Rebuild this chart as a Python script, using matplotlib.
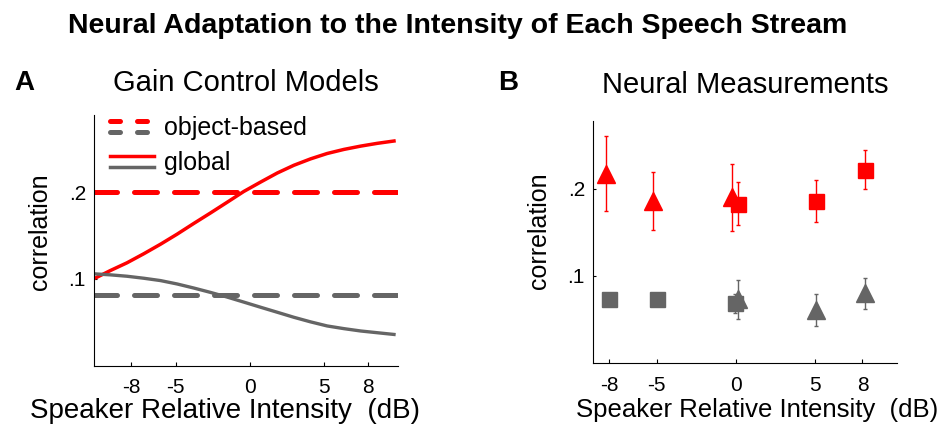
import matplotlib
matplotlib.use("Agg")
import matplotlib.pyplot as plt
from matplotlib.lines import Line2D
from matplotlib.legend_handler import HandlerBase

plt.rcParams['font.family'] = ['Liberation Sans', 'DejaVu Sans']
plt.rcParams['axes.unicode_minus'] = False

RED = '#ff0000'
GRAY = '#656565'

# Panel A: gain control models
model_x = [-10.43, -9.41, -8.29, -7.16, -6.03, -4.91, -3.78, -2.66, -1.53, -0.41,
           0.72, 1.85, 2.97, 4.10, 5.22, 6.35, 7.48, 8.60, 9.73]
global_red = [0.101, 0.1097, 0.1186, 0.129, 0.140, 0.1516, 0.164, 0.176, 0.1884, 0.2008,
              0.2116, 0.2221, 0.231, 0.2384, 0.2446, 0.2493, 0.2531, 0.2563, 0.259]
global_gray = [0.1058, 0.1047, 0.1031, 0.1008, 0.0981, 0.0942, 0.0895, 0.0845, 0.0791, 0.0733,
               0.0674, 0.0616, 0.0558, 0.0505, 0.0458, 0.0427, 0.040, 0.038, 0.036]
object_red = 0.200
object_gray = 0.081

# Panel B: neural measurements
red_tri_x = [-8.2, -5.2, -0.27]
red_tri_y = [0.217, 0.186, 0.190]
red_tri_err = [0.043, 0.033, 0.038]
red_sq_x = [0.13, 5.07, 8.15]
red_sq_y = [0.183, 0.186, 0.222]
red_sq_err = [0.025, 0.024, 0.022]
gray_sq_x = [-8.0, -5.0, -0.07]
gray_sq_y = [0.0735, 0.0735, 0.0685]
gray_sq_err = [0.007, 0.007, 0.011]
gray_tri_x = [0.13, 5.07, 8.15]
gray_tri_y = [0.073, 0.061, 0.080]
gray_tri_err = [0.022, 0.018, 0.018]

xticks = [-8, -5, 0, 5, 8]
xtick_labels = ['-8', '-5', '0', '5', '8']
yticks = [0.1, 0.2]
ytick_labels = ['.1', '.2']


class PairHandler(HandlerBase):
    # two legend lines stacked on top of each other
    def create_artists(self, legend, orig_handle, xdescent, ydescent,
                       width, height, fontsize, trans):
        gap = 3.9
        ys = [height / 2 + gap, height / 2 - gap]
        out = []
        for h, y in zip(orig_handle, ys):
            ln = Line2D([-xdescent, width - xdescent], [y - ydescent, y - ydescent])
            ln.update_from(h)
            ln.set_transform(trans)
            out.append(ln)
        return out


def style_axes(ax, xlim, ylim, xlabel_size):
    ax.set_xlim(*xlim)
    ax.set_ylim(*ylim)
    for s in ['top', 'right']:
        ax.spines[s].set_visible(False)
    for s in ['left', 'bottom']:
        ax.spines[s].set_linewidth(0.8)
    ax.set_xticks(xticks)
    ax.set_xticklabels(xtick_labels)
    ax.set_yticks(yticks)
    ax.set_yticklabels(ytick_labels)
    ax.tick_params(axis='x', direction='in', length=3, width=0.8, labelsize=15, pad=9)
    ax.tick_params(axis='y', direction='in', length=2.5, width=0.8, labelsize=15, pad=6)
    ax.set_ylabel('correlation', fontsize=18)
    ax.set_xlabel('Speaker Relative Intensity  (dB)', fontsize=xlabel_size)


fig = plt.figure(figsize=(9.38, 4.37), dpi=100)
axA = fig.add_axes([0.1005, 0.1632, 0.3238, 0.5737])
axB = fig.add_axes([0.6325, 0.1693, 0.3241, 0.5545])

# A
axA.axhline(object_red, color=RED, lw=3.6, dashes=(4.6, 3.4), dash_capstyle='round')
axA.axhline(object_gray, color=GRAY, lw=3.6, dashes=(4.6, 3.4), dash_capstyle='round')
axA.plot(model_x, global_red, color=RED, lw=2.5)
axA.plot(model_x, global_gray, color=GRAY, lw=2.4)
style_axes(axA, (-10.5, 10.0), (0, 0.289), 20)
axA.yaxis.set_label_coords(-0.14, 0.534)
axA.xaxis.set_label_coords(0.43, -0.13)
axA.set_title('Gain Control Models', fontsize=21, pad=17)

leg_dash = [Line2D([], [], color=c, lw=3.6, dashes=(2.0, 3.4), dash_capstyle='round') for c in (RED, GRAY)]
leg_solid = [Line2D([], [], color=c, lw=2.5) for c in (RED, GRAY)]
axA.legend([tuple(leg_dash), tuple(leg_solid)], ['object-based', 'global'],
           handler_map={tuple: PairHandler()}, loc='upper left',
           bbox_to_anchor=(0.052, 0.994), frameon=False, fontsize=18,
           handlelength=1.75, handletextpad=0.4, labelspacing=0.44,
           borderpad=0, borderaxespad=0)

# B
eb = dict(ls='none', elinewidth=1.0, capsize=1.5, capthick=1.0)
axB.errorbar(gray_sq_x, gray_sq_y, yerr=gray_sq_err, marker='s', ms=10.8, color=GRAY, **eb)
axB.errorbar(gray_tri_x, gray_tri_y, yerr=gray_tri_err, marker='^', ms=13, color=GRAY, **eb)
axB.errorbar(red_tri_x, red_tri_y, yerr=red_tri_err, marker='^', ms=13, color=RED, **eb)
axB.errorbar(red_sq_x, red_sq_y, yerr=red_sq_err, marker='s', ms=10.8, color=RED, **eb)
style_axes(axB, (-9.0, 10.2), (0, 0.278), 18.5)
axB.yaxis.set_label_coords(-0.14, 0.546)
axB.xaxis.set_label_coords(0.5375, -0.145)
axB.set_title('Neural Measurements', fontsize=21, pad=20)

fig.text(24.7 / 938, 1 - 90 / 437, 'A', fontsize=20, fontweight='bold', ha='center', va='baseline')
fig.text(508 / 938, 1 - 90 / 437, 'B', fontsize=20, fontweight='bold', ha='center', va='baseline')
fig.text(457.4 / 938, 1 - 33 / 437, 'Neural Adaptation to the Intensity of Each Speech Stream',
         fontsize=20.5, fontweight='bold', ha='center', va='baseline')

fig.savefig('out.png', dpi=100)
